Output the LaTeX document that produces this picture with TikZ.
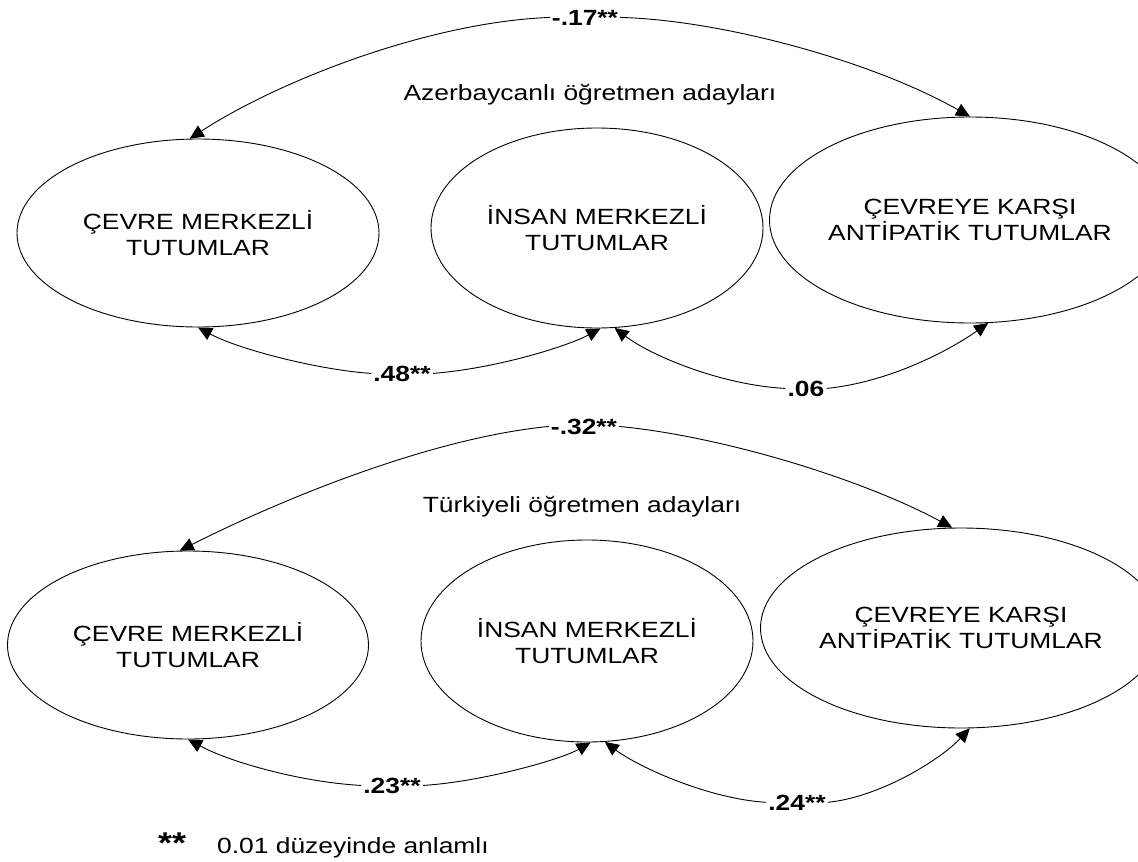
\documentclass[tikz,border=0pt]{standalone}
\usepackage{fontspec}
\setmainfont{Liberation Sans}[FakeStretch=1.2]
\usetikzlibrary{shapes.geometric,arrows.meta}
\begin{document}
\begin{tikzpicture}[x=1pt,y=-1pt,
  every node/.style={font=\fontsize{22}{26}\selectfont},
  var/.style={ellipse,draw,line width=0.9pt,align=center,inner sep=0pt},
  coef/.style={font=\fontsize{22}{26}\selectfont\bfseries,inner sep=2pt,anchor=base},
  link/.style={line width=0.9pt,-{Triangle[length=14pt,width=13pt]}}]
\useasboundingbox (0,0) rectangle (1138,862);
% ---- top group ----
\node[var,minimum width=362pt,minimum height=188pt] (L1) at (198,233) {ÇEVRE MERKEZLİ\\TUTUMLAR};
\node[var,minimum width=332pt,minimum height=200pt] (M1) at (597,228) {İNSAN MERKEZLİ\\TUTUMLAR};
\node[var,minimum width=334pt,minimum height=206pt] (R1) at (970,220) {ÇEVREYE KARŞI\\ANTİPATİK TUTUMLAR};
\node[anchor=base] (az) at (590,100) {Azerbaycanlı öğretmen adayları};
\node[coef] (c17) at (585,25) {-.17**};
\node[coef] (c48) at (402,381) {.48**};
\node[coef] (c06) at (806,396) {.06};
\draw[link] (c17.west) .. controls (430,22) and (280,80) .. (L1.95);
\draw[link] (c17.east) .. controls (720,20) and (870,60) .. (R1.north);
\draw[link] (c48.west) .. controls (320,370) and (240,350) .. (L1.south);
\draw[link] (c48.east) .. controls (500,368) and (570,345) .. (M1.-88);
\draw[link] (c06.west) .. controls (720,385) and (650,355) .. (M1.-80);
\draw[link] (c06.east) .. controls (890,382) and (950,350) .. (R1.-80);
% ---- bottom group ----
\node[var,minimum width=361pt,minimum height=188pt] (L2) at (188,645) {ÇEVRE MERKEZLİ\\TUTUMLAR};
\node[var,minimum width=332pt,minimum height=202pt] (M2) at (587,641) {İNSAN MERKEZLİ\\TUTUMLAR};
\node[var,minimum width=334pt,minimum height=200pt] (R2) at (961,628) {ÇEVREYE KARŞI\\ANTİPATİK TUTUMLAR};
\node[anchor=base] (tr) at (582,512) {Türkiyeli öğretmen adayları};
\node[coef] (c32) at (584,434) {-.32**};
\node[coef] (c23) at (392,793) {.23**};
\node[coef] (c24) at (797,810) {.24**};
\draw[link] (c32.west) .. controls (430,438) and (280,500) .. (L2.95);
\draw[link] (c32.east) .. controls (720,436) and (860,478) .. (R2.95);
\draw[link] (c23.west) .. controls (300,782) and (230,762) .. (L2.south);
\draw[link] (c23.east) .. controls (480,782) and (560,760) .. (M2.-88);
\draw[link] (c24.west) .. controls (710,799) and (640,768) .. (M2.-80);
\draw[link] (c24.east) .. controls (880,797) and (940,760) .. (R2.-85);
% ---- legend ----
\node[font=\fontsize{30}{30}\selectfont\bfseries,anchor=base west,inner sep=0pt] (star) at (158,853) {**};
\node[anchor=base west,inner sep=0pt] (leg) at (217,853) {0.01 düzeyinde anlamlı};
\end{tikzpicture}
\end{document}
